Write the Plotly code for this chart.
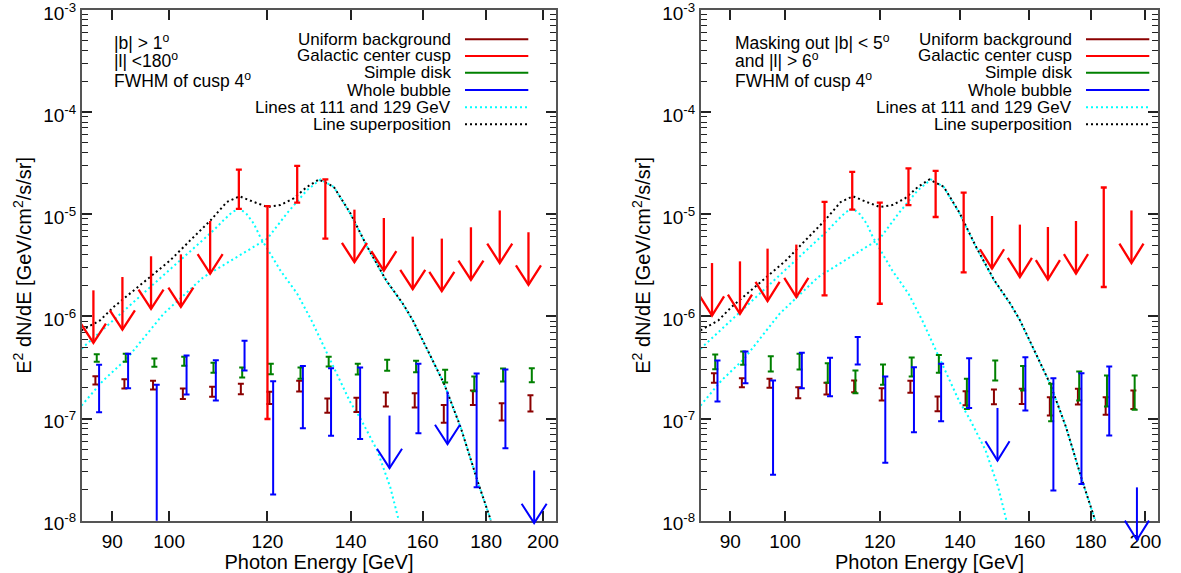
import math
import plotly.graph_objects as go

# ---------------- data ----------------
energy = [86.9, 91.7, 96.7, 102.2, 107.9, 113.8, 120.0, 126.8, 133.6, 141.0,
          148.9, 157.1, 165.8, 175.0, 184.6, 194.7]

# Left panel: |b|>1, |l|<180.  lo=None -> upper limit at hi
cusp_left_hi = [1.80e-6, 2.43e-6, 3.88e-6, 4.05e-6, 8.6e-6, 2.74e-5, 1.20e-5, 2.98e-5, 2.20e-5,
                1.11e-5, 9.2e-6, 6.04e-6, 5.78e-6, 7.46e-6, 1.09e-5, 6.67e-6]
cusp_left_lo = [None, None, None, None, None, 1.13e-5, 9.9e-8, 1.30e-5, 5.78e-6,
                None, None, None, None, None, None, None]
bg_left_hi = [2.60e-7, 2.43e-7, 2.34e-7, 1.97e-7, 2.05e-7, 2.19e-7, 1.83e-7, 2.34e-7,
              1.57e-7, 1.60e-7, 1.80e-7, 1.77e-7, 1.36e-7, 1.88e-7, 1.41e-7, 1.69e-7]
bg_left_lo = [2.15e-7, 1.97e-7, 1.92e-7, 1.55e-7, 1.63e-7, 1.73e-7, 1.39e-7, 1.84e-7,
              1.14e-7, 1.16e-7, 1.31e-7, 1.28e-7, 9.1e-8, 1.36e-7, 9.56e-8, 1.17e-7]
disk_left_hi = [4.27e-7, 4.31e-7, 3.87e-7, 4.03e-7, 3.52e-7, 3.16e-7, 3.44e-7, 3.16e-7,
                4.03e-7, 3.44e-7, 3.76e-7, 3.68e-7, 3.00e-7, 2.58e-7, 3.09e-7, 3.11e-7]
disk_left_lo = [3.60e-7, 3.60e-7, 3.21e-7, 3.29e-7, 2.81e-7, 2.52e-7, 2.72e-7, 2.45e-7,
                3.24e-7, 2.70e-7, 2.94e-7, 2.84e-7, 2.25e-7, 1.85e-7, 2.31e-7, 2.27e-7]
bubble_left_hi = [3.36e-7, 4.31e-7, 2.14e-7, 4.15e-7, 3.73e-7, 5.78e-7, 2.32e-7, 3.26e-7,
                  3.11e-7, 3.16e-7, 1.07e-7, 3.44e-7, 1.84e-7, 2.76e-7, 3.02e-7, 3.1e-8]
bubble_left_lo = [1.15e-7, 1.98e-7, 1.0e-9, 1.72e-7, 1.50e-7, 2.96e-7, 1.80e-8, 8.03e-8,
                  6.77e-8, 6.32e-8, None, 7.18e-8, None, 2.12e-8, 5.12e-8, None]

# Right panel: masking out |b|<5 and |l|>6
cusp_right_hi = [3.33e-6, 3.46e-6, 4.61e-6, 5.05e-6, 1.32e-5, 2.60e-5, 1.30e-5, 2.81e-5,
                 2.66e-5, 1.63e-5, 9.62e-6, 7.92e-6, 7.51e-6, 8.60e-6, 1.83e-5, 1.09e-5]
cusp_right_lo = [None, None, None, None, 1.61e-6, 1.11e-5, 1.33e-6, 1.23e-5,
                 9.41e-6, 2.70e-6, None, None, None, None, 1.94e-6, None]
bg_right_hi = [2.78e-7, 2.48e-7, 2.45e-7, 2.03e-7, 2.24e-7, 2.36e-7, 1.98e-7, 2.34e-7,
               1.64e-7, 1.85e-7, 1.92e-7, 1.96e-7, 1.62e-7, 1.96e-7, 1.62e-7, 1.88e-7]
bg_right_lo = [2.24e-7, 2.03e-7, 2.00e-7, 1.58e-7, 1.72e-7, 1.81e-7, 1.50e-7, 1.79e-7,
               1.18e-7, 1.35e-7, 1.38e-7, 1.39e-7, 1.07e-7, 1.37e-7, 1.09e-7, 1.24e-7]
disk_right_hi = [4.24e-7, 4.54e-7, 4.08e-7, 4.31e-7, 3.48e-7, 2.96e-7, 3.38e-7, 3.96e-7,
                 4.18e-7, 2.45e-7, 3.70e-7, 3.26e-7, 2.19e-7, 2.89e-7, 2.64e-7, 2.64e-7]
disk_right_lo = [3.04e-7, 3.36e-7, 2.89e-7, 3.02e-7, 2.24e-7, 1.77e-7, 2.14e-7, 2.58e-7,
                 2.81e-7, 1.24e-7, 2.36e-7, 1.88e-7, 9.4e-8, 1.50e-7, 1.31e-7, 1.22e-7]
bubble_right_hi = [3.70e-7, 4.54e-7, 2.36e-7, 4.41e-7, 3.94e-7, 6.27e-7, 2.58e-7, 3.18e-7,
                   3.44e-7, 3.90e-7, 1.27e-7, 3.99e-7, 2.48e-7, 2.78e-7, 3.24e-7, 2.12e-8]
bubble_right_lo = [1.47e-7, 2.22e-7, 2.81e-8, 1.98e-7, 1.65e-7, 3.38e-7, 3.68e-8, 7.34e-8,
                   9.4e-8, 1.27e-7, None, 1.20e-7, 1.97e-8, 2.29e-8, 6.81e-8, None]

# Model line curves (same in both panels)
line111_E = [85.0, 96.1, 108.6, 110.6, 112.4, 113.95, 115.5, 117.0, 118.4, 122.9, 126.8,
             130.2, 134.9, 139.9, 142.6, 147.1, 150.7, 153.1]
line111_v = [4.82e-7, 1.84e-6, 6.97e-6, 8.74e-6, 1.05e-5, 1.14e-5, 1.0e-5, 8.1e-6, 5.99e-6,
             2.82e-6, 1.67e-6, 9.14e-7, 3.70e-7, 1.45e-7, 1.0e-7, 4.86e-8, 2.12e-8, 1.0e-8]
line129_E = [85.0, 88.5, 92.45, 98.95, 106.6, 113.4, 120.0, 124.4, 129.1, 132.4, 135.7,
             139.9, 144.4, 149.5, 154.2, 157.1, 162.0, 166.5, 171.7, 177.1, 181.6]
line129_v = [1.34e-7, 2.36e-7, 3.85e-7, 1.06e-6, 2.43e-6, 3.81e-6, 5.78e-6, 1.02e-5, 1.72e-5,
             2.19e-5, 1.85e-5, 1.02e-5, 4.78e-6, 2.25e-6, 1.33e-6, 9.14e-7, 4.31e-7, 2.19e-7,
             8.22e-8, 2.47e-8, 1.0e-8]
sum_E = [85.0, 87.97, 90.17, 93.0, 96.53, 100.2, 104.0, 108.0, 111.3, 113.95, 117.0, 120.0,
         122.9, 125.96, 129.1, 132.0, 135.7, 139.9, 144.4, 149.5, 154.2, 157.1, 162.0, 166.5,
         171.7, 177.1, 181.6]
sum_v = [7.29e-7, 9.14e-7, 1.23e-6, 1.67e-6, 2.43e-6, 3.54e-6, 5.56e-6, 8.74e-6, 1.32e-5,
         1.50e-5, 1.32e-5, 1.18e-5, 1.23e-5, 1.43e-5, 1.85e-5, 2.19e-5, 1.86e-5, 1.03e-5,
         4.80e-6, 2.27e-6, 1.34e-6, 9.2e-7, 4.32e-7, 2.19e-7, 8.2e-8, 2.47e-8, 1.0e-8]

x_ticks = [90, 100, 120, 140, 160, 180, 200]
y_ticks = [1e-8, 1e-7, 1e-6, 1e-5, 1e-4, 1e-3]
y_tick_text = ["10<sup>-8</sup>", "10<sup>-7</sup>", "10<sup>-6</sup>",
               "10<sup>-5</sup>", "10<sup>-4</sup>", "10<sup>-3</sup>"]

legend_names = ["Uniform background", "Galactic center cusp", "Simple disk",
                "Whole bubble", "Lines at 111 and 129 GeV", "Line superposition"]
label_left = ["|b| > 1<sup>o</sup>", "|l| <180<sup>o</sup>", "FWHM of cusp 4<sup>o</sup>"]
label_right = ["Masking out |b| < 5<sup>o</sup>", "and |l| > 6<sup>o</sup>",
               "FWHM of cusp 4<sup>o</sup>"]

# ---------------- styling ----------------
W, H = 1181, 573
FONT = "Liberation Sans, Arial, Helvetica, sans-serif"
C_BG, C_CUSP, C_DISK, C_BUB = "#8b0000", "#ff0000", "#008000", "#0000ff"
C_CYAN, C_BLACK = "#00ffff", "#000000"
DOT = "2px,3px"
SHIFT = {"cusp": 1.0, "bg": 1.0037, "disk": 1.0062, "bub": 1.0106}
ARROW_DEC = 10 ** (52.5 / 102)   # arrow length factor
HEAD_X = 10 ** (12.5 / 1241)
HEAD_Y = 10 ** (19.3 / 102)

top_px, bot_px, ext_px = 10, 520.7, 550
pxdec = (bot_px - top_px) / 5.0
ydom = [1 - bot_px / H, 1 - top_px / H]
ydom_ext = [1 - ext_px / H, 1 - top_px / H]
left_dom = [82 / W, 556 / W]
right_dom = [701 / W, 1158 / W]
xr = [math.log10(85.08), math.log10(204.9)]

fig = go.Figure()


def add_series(E, lo, hi, color, shift, xa, ya, xa_ext, ya_ext, width=2):
    xs, cs, up, dn = [], [], [], []
    ax_, ay_ = [], []
    for e, l, h in zip(E, lo, hi):
        x = e * shift
        if l is None:
            tip = h / ARROW_DEC
            ax_ += [x, x, None, x / HEAD_X, x, x * HEAD_X, None]
            ay_ += [h, tip, None, tip * HEAD_Y, tip, tip * HEAD_Y, None]
        else:
            c = math.sqrt(l * h)
            xs.append(x); cs.append(c); up.append(h - c); dn.append(c - l)
    fig.add_trace(go.Scatter(
        x=xs, y=cs, mode="markers", xaxis=xa, yaxis=ya, showlegend=False,
        marker=dict(size=1, color="rgba(0,0,0,0)"), hoverinfo="skip",
        error_y=dict(type="data", symmetric=False, array=up, arrayminus=dn,
                     color=color, thickness=width, width=3)))
    if ax_:
        fig.add_trace(go.Scatter(x=ax_, y=ay_, mode="lines", xaxis=xa_ext, yaxis=ya_ext,
                                 showlegend=False, line=dict(color=color, width=width)))


panels = [
    ("x", "y", "x3", "y3", cusp_left_lo, cusp_left_hi, bg_left_lo, bg_left_hi,
     disk_left_lo, disk_left_hi, bubble_left_lo, bubble_left_hi),
    ("x2", "y2", "x4", "y4", cusp_right_lo, cusp_right_hi, bg_right_lo, bg_right_hi,
     disk_right_lo, disk_right_hi, bubble_right_lo, bubble_right_hi),
]
for xa, ya, xe, ye, clo, chi, blo, bhi, dlo, dhi, ulo, uhi in panels:
    fig.add_trace(go.Scatter(x=line111_E, y=line111_v, mode="lines", xaxis=xa, yaxis=ya,
                             showlegend=False, line=dict(color=C_CYAN, width=2, dash=DOT)))
    fig.add_trace(go.Scatter(x=line129_E, y=line129_v, mode="lines", xaxis=xa, yaxis=ya,
                             showlegend=False, line=dict(color=C_CYAN, width=2, dash=DOT)))
    fig.add_trace(go.Scatter(x=sum_E, y=sum_v, mode="lines", xaxis=xa, yaxis=ya,
                             showlegend=False, line=dict(color=C_BLACK, width=2, dash=DOT)))
    add_series(energy, blo, bhi, C_BG, SHIFT["bg"], xa, ya, xe, ye)
    add_series(energy, dlo, dhi, C_DISK, SHIFT["disk"], xa, ya, xe, ye)
    add_series(energy, ulo, uhi, C_BUB, SHIFT["bub"], xa, ya, xe, ye)
    add_series(energy, clo, chi, C_CUSP, SHIFT["cusp"], xa, ya, xe, ye, width=2.3)

# ---------------- axes ----------------
minor_vals = [k * 10 ** e for e in range(-8, -3) for k in range(2, 10)]

axis_common = dict(showline=True, linecolor="#555555", linewidth=2, mirror="ticks",
                   ticks="inside", tickcolor="#222222", tickwidth=1.5, showgrid=False,
                   zeroline=False, ticklabeloverflow="allow", automargin=False,
                   tickfont=dict(size=19, color="black", family=FONT))
xaxis_cfg = dict(axis_common, type="log", range=xr, tickmode="array", tickvals=x_ticks,
                 ticktext=[str(v) for v in x_ticks], ticklen=10, ticklabelstandoff=2,
                 title=dict(text="Photon Energy [GeV]", font=dict(size=20, color="black",
                                                                 family=FONT), standoff=10))
yaxis_cfg = dict(axis_common, type="log", range=[-8.0004, -2.9996], tickmode="array",
                 tickvals=y_ticks, ticktext=y_tick_text, ticklen=10, ticklabelshift=3,
                 minor=dict(tickmode="array", tickvals=minor_vals, ticks="inside", ticklen=6,
                            tickcolor="#222222", tickwidth=1.2),
                 title=dict(text="E<sup>2</sup> dN/dE [GeV/cm<sup>2</sup>/s/sr]",
                            font=dict(size=20, color="black", family=FONT), standoff=6))
hidden_x = dict(type="log", range=xr, visible=False, showgrid=False, zeroline=False,
                automargin=False)
hidden_y = dict(type="log", range=[-3 - (ext_px - top_px) / pxdec, -3], visible=False,
                showgrid=False, zeroline=False, domain=ydom_ext, automargin=False)

fig.update_layout(
    width=W, height=H, margin=dict(l=0, r=0, t=0, b=0, autoexpand=False),
    paper_bgcolor="white", plot_bgcolor="rgba(0,0,0,0)",
    font=dict(family=FONT, color="black"),
    xaxis=dict(xaxis_cfg, domain=left_dom, anchor="y"),
    yaxis=dict(yaxis_cfg, domain=ydom, anchor="x"),
    xaxis2=dict(xaxis_cfg, domain=right_dom, anchor="y2"),
    yaxis2=dict(yaxis_cfg, domain=ydom, anchor="x2"),
    xaxis3=dict(hidden_x, domain=left_dom, anchor="y3"),
    yaxis3=dict(hidden_y, anchor="x3"),
    xaxis4=dict(hidden_x, domain=right_dom, anchor="y4"),
    yaxis4=dict(hidden_y, anchor="x4"),
    showlegend=False,
)

# ---------------- manual legends & labels ----------------
leg_styles = [(C_BG, None), (C_CUSP, None), (C_DISK, None), (C_BUB, None),
              (C_CYAN, DOT), (C_BLACK, DOT)]
row_px = [39.3, 56, 72.7, 90, 107.3, 124.3]
for text_x, l0, l1 in [(453.3, 465, 528.3), (1074, 1086, 1149.3)]:
    for name, (col, dash), ry in zip(legend_names, leg_styles, row_px):
        yy = 1 - ry / H
        fig.add_annotation(x=text_x / W, y=yy, xref="paper", yref="paper", text=name,
                           showarrow=False, xanchor="right", yanchor="middle",
                           font=dict(size=17, color="black", family=FONT))
        fig.add_shape(type="line", xref="paper", yref="paper", x0=l0 / W, x1=l1 / W,
                      y0=yy, y1=yy, line=dict(color=col, width=2, dash=dash or "solid"))

for lab, lx in [(label_left, 111.7), (label_right, 732.7)]:
    for t, ry in zip(lab, [41.7, 60.5, 80]):
        fig.add_annotation(x=lx / W, y=1 - ry / H, xref="paper", yref="paper", text=t,
                           showarrow=False, xanchor="left", yanchor="middle",
                           font=dict(size=17.5, color="black", family=FONT))

fig.write_html("out.html")
